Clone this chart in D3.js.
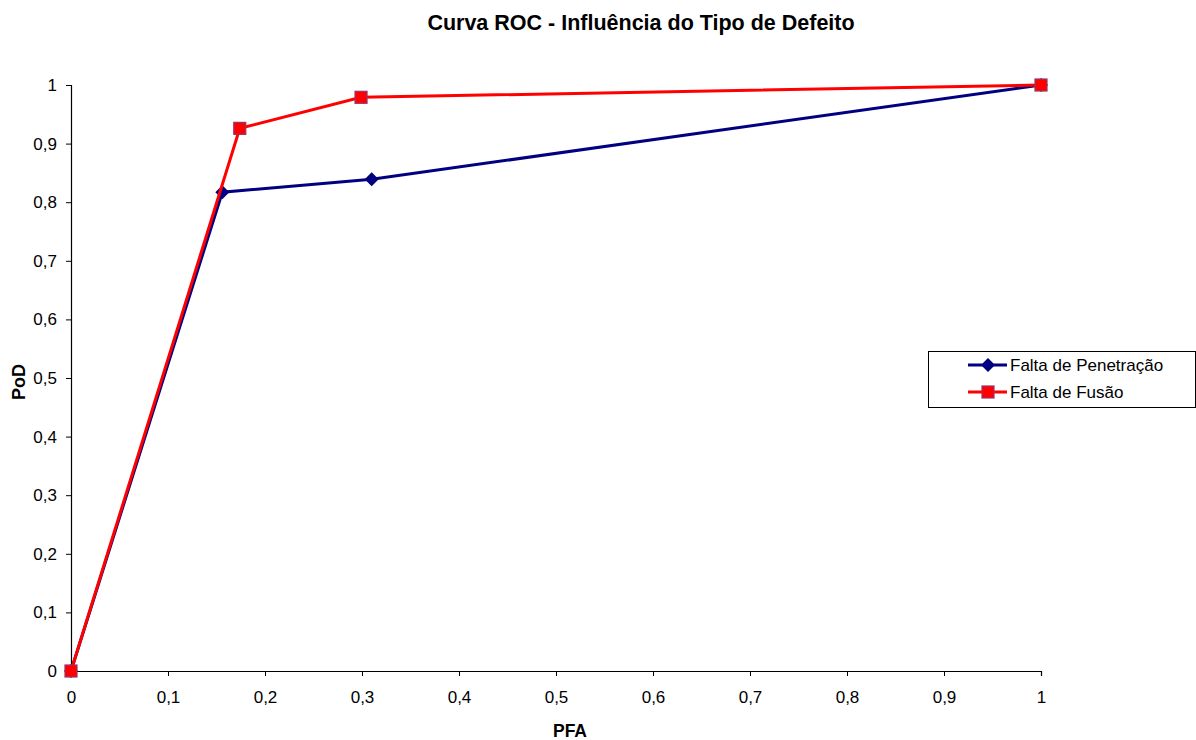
<!DOCTYPE html>
<html>
<head>
<meta charset="utf-8">
<script src="https://cdn.jsdelivr.net/npm/d3@7"></script>
<style>
  html, body { margin: 0; padding: 0; background: #fff; }
  svg { display: block; font-family: "Liberation Sans", Arial, sans-serif; }
</style>
</head>
<body>
<svg id="chart" width="1196" height="740"></svg>
<script>
// ROC points per defect type (PFA, PoD)
const pfaPenetracao = [0, 0.156, 0.310, 1];
const podPenetracao = [0, 0.817, 0.839, 1];
const pfaFusao = [0, 0.174, 0.299, 1];
const podFusao = [0, 0.926, 0.979, 1];
const seriesNames = ["Falta de Penetração", "Falta de Fusão"];
const xTicks = [0, 0.1, 0.2, 0.3, 0.4, 0.5, 0.6, 0.7, 0.8, 0.9, 1];
const yTicks = [0, 0.1, 0.2, 0.3, 0.4, 0.5, 0.6, 0.7, 0.8, 0.9, 1];

const svg = d3.select("#chart");
const plotLeft = 71, plotRight = 1041, plotTop = 85, plotBottom = 671;

const x = d3.scaleLinear().domain([0, 1]).range([plotLeft, plotRight]);
const y = d3.scaleLinear().domain([0, 1]).range([plotBottom, plotTop]);
const fmt = d => d3.format("~g")(d).replace(".", ",");

// Title
svg.append("text")
  .attr("x", 641).attr("y", 30)
  .attr("text-anchor", "middle")
  .attr("font-size", 21.5).attr("font-weight", "bold")
  .text("Curva ROC - Influência do Tipo de Defeito");

// Axes
const xAxis = svg.append("g")
  .attr("transform", `translate(0,${plotBottom})`)
  .call(d3.axisBottom(x).tickValues(xTicks).tickFormat(fmt).tickSize(5).tickPadding(15));
const yAxis = svg.append("g")
  .attr("transform", `translate(${plotLeft},0)`)
  .call(d3.axisLeft(y).tickValues(yTicks).tickFormat(fmt).tickSize(5).tickPadding(9));
[xAxis, yAxis].forEach(g => {
  g.select(".domain").attr("stroke", "#000").attr("stroke-width", 1.2);
  g.selectAll(".tick line").attr("stroke", "#000");
  g.selectAll(".tick text").attr("font-size", 17).attr("fill", "#000")
    .attr("font-family", "Liberation Sans, Arial, sans-serif");
});

// Axis titles
svg.append("text")
  .attr("x", 570).attr("y", 737)
  .attr("text-anchor", "middle")
  .attr("font-size", 17.5).attr("font-weight", "bold")
  .text("PFA");
svg.append("text")
  .attr("transform", "translate(25,382) rotate(-90)")
  .attr("text-anchor", "middle")
  .attr("font-size", 18).attr("font-weight", "bold")
  .text("PoD");

const series = [
  { name: seriesNames[0], xs: pfaPenetracao, ys: podPenetracao, color: "#000080", marker: "diamond" },
  { name: seriesNames[1], xs: pfaFusao, ys: podFusao, color: "#ff0000", marker: "square" }
];

const line = d3.line().x(d => x(d[0])).y(d => y(d[1]));

function drawMarker(g, type, cx, cy, color) {
  if (type === "diamond") {
    g.append("path")
      .attr("d", `M${cx},${cy - 7}L${cx + 7},${cy}L${cx},${cy + 7}L${cx - 7},${cy}Z`)
      .attr("fill", color);
  } else {
    g.append("rect")
      .attr("x", cx - 6).attr("y", cy - 6)
      .attr("width", 12).attr("height", 12)
      .attr("fill", color)
      .attr("stroke", "#993366").attr("stroke-width", 1.2);
  }
}

series.forEach(s => {
  const pts = s.xs.map((v, i) => [v, s.ys[i]]);
  const g = svg.append("g");
  g.append("path")
    .datum(pts)
    .attr("d", line)
    .attr("fill", "none")
    .attr("stroke", s.color)
    .attr("stroke-width", 3);
  pts.forEach(p => drawMarker(g, s.marker, x(p[0]), y(p[1]), s.color));
});

// Legend
const lg = svg.append("g");
lg.append("rect")
  .attr("x", 928.5).attr("y", 351.5)
  .attr("width", 267).attr("height", 56)
  .attr("fill", "#fff").attr("stroke", "#000").attr("stroke-width", 1);
series.forEach((s, i) => {
  const cy = 365 + i * 27;
  lg.append("line")
    .attr("x1", 968).attr("x2", 1007).attr("y1", cy).attr("y2", cy)
    .attr("stroke", s.color).attr("stroke-width", 3);
  drawMarker(lg, s.marker, 988, cy, s.color);
  lg.append("text")
    .attr("x", 1010).attr("y", cy + 6)
    .attr("font-size", 17)
    .text(s.name);
});
</script>
</body>
</html>
